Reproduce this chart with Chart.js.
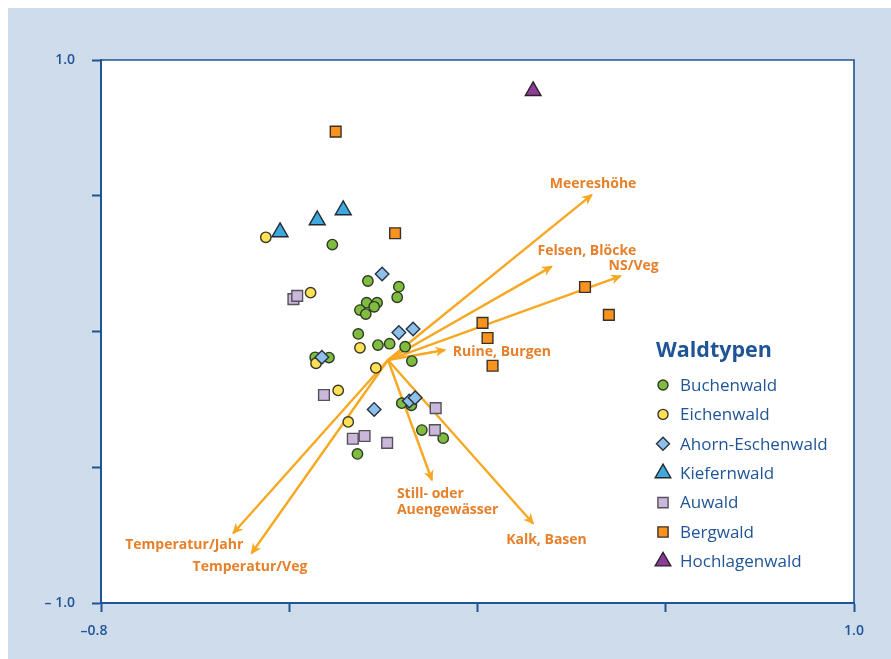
<!DOCTYPE html>
<html>
<head>
<meta charset="utf-8">
<script src="https://cdn.jsdelivr.net/npm/chart.js@4.4.1/dist/chart.umd.min.js"></script>
<style>
  html, body { margin: 0; padding: 0; background: #ffffff; }
  #panel { position: absolute; left: 8px; top: 8px; width: 883px; height: 651px; background: #cfdcec; }
  #wrap { position: absolute; left: 0; top: 0; width: 891px; height: 659px; }
</style>
</head>
<body>
<div id="panel"></div>
<div id="wrap"><canvas id="c" width="891" height="659"></canvas></div>
<script>
// Site scores per forest type: [axis 1, axis 2]
const buchenwald = [
  [-0.247, 0.320], [-0.162, 0.186], [-0.088, 0.165], [-0.092, 0.126], [-0.165, 0.106],
  [-0.140, 0.106], [-0.181, 0.079], [-0.147, 0.091], [-0.167, 0.064], [-0.185, -0.009],
  [-0.138, -0.050], [-0.110, -0.045], [-0.073, -0.056], [-0.057, -0.109], [-0.288, -0.095],
  [-0.255, -0.096], [-0.081, -0.264], [-0.058, -0.272], [-0.033, -0.363], [0.018, -0.393],
  [-0.187, -0.451]
];
const eichenwald = [
  [-0.406, 0.347], [-0.299, 0.143], [-0.181, -0.060], [-0.286, -0.117], [-0.143, -0.134],
  [-0.233, -0.217], [-0.209, -0.333]
];
const ahornEschenwald = [
  [-0.128, 0.212], [-0.088, -0.004], [-0.054, 0.009], [-0.272, -0.095], [-0.063, -0.256],
  [-0.049, -0.244], [-0.147, -0.287]
];
const kiefernwald = [[-0.372, 0.366], [-0.283, 0.410], [-0.221, 0.447]];
const auwald = [
  [-0.340, 0.119], [-0.331, 0.131], [-0.267, -0.234], [0.000, -0.282], [-0.002, -0.363],
  [-0.198, -0.395], [-0.170, -0.385], [-0.116, -0.410]
];
const bergwald = [
  [-0.239, 0.736], [-0.097, 0.362], [0.357, 0.164], [0.414, 0.061], [0.112, 0.032],
  [0.124, -0.024], [0.136, -0.126]
];
const hochlagenwald = [[0.233, 0.886]];

// Environmental vectors (fitted onto the ordination)
const arrowOrigin = [-0.114, -0.105];
const arrowNames = [
  ['Meereshöhe'], ['Felsen, Blöcke'], ['NS/Veg'], ['Ruine, Burgen'],
  ['Still- oder', 'Auengewässer'], ['Kalk, Basen'], ['Temperatur/Jahr'], ['Temperatur/Veg']
];
const arrowX = [0.373, 0.277, 0.442, 0.022, -0.009, 0.233, -0.484, -0.440];
const arrowY = [0.503, 0.239, 0.204, -0.068, -0.547, -0.707, -0.743, -0.817];

// Axis ticks
const xTickValues = [-0.8, -0.35, 0.1, 0.55, 1.0];
const xTickLabels = ['–0.8\u2003', '', '', '', '1.0'];
const yTickValues = [-1.0, -0.5, 0, 0.5, 1.0];
const yTickLabels = ['– 1.0', '', '', '', '1.0'];

const groupNames = ['Buchenwald', 'Eichenwald', 'Ahorn-Eschenwald', 'Kiefernwald', 'Auwald', 'Bergwald', 'Hochlagenwald'];
const groupData = [buchenwald, eichenwald, ahornEschenwald, kiefernwald, auwald, bergwald, hochlagenwald];

// Marker styling per group
const groupStyles = [
  { pointStyle: 'circle',   radius: 5.2, bg: '#80bc3f', border: '#2c3a22', legendRadius: 5 },
  { pointStyle: 'circle',   radius: 5.2, bg: '#fee155', border: '#3a3524', legendRadius: 5 },
  { pointStyle: 'rectRot',  radius: 6.8, bg: '#8dbfe8', border: '#263241', legendRadius: 6.5 },
  { pointStyle: 'triangle', radius: 9.2, bg: '#3fa9de', border: '#1f2a33', legendRadius: 9 },
  { pointStyle: 'rect',     radius: 7.6, bg: '#c9b8d9', border: '#555059', legendRadius: 7.2 },
  { pointStyle: 'rect',     radius: 7.6, bg: '#f7931e', border: '#3b3128', legendRadius: 7.2 },
  { pointStyle: 'triangle', radius: 9.0, bg: '#8c3d96', border: '#2b1f2c', legendRadius: 9 }
];

// Pixel offsets of each vector label from its arrow tip (left edge, text middle)
const arrowLabelOffset = [
  [-42, -11], [-14, -16], [-12, -10], [8, 2], [-35, 14], [-27, 17], [-108, 12], [-59, 14]
];

const AXIS_BLUE = '#1f5497';
const ARROW_COLOR = '#f7a823';
const LABEL_ORANGE = '#e6802b';
const FONT = '"Open Sans", "Noto Sans", sans-serif';

const datasets = [];
groupNames.forEach((name, i) => {
  const st = groupStyles[i];
  datasets.push({
    label: name,
    data: groupData[i].map(p => ({ x: p[0], y: p[1] })),
    pointStyle: st.pointStyle,
    pointRadius: st.radius,
    pointHoverRadius: st.radius,
    backgroundColor: st.bg,
    borderColor: st.border,
    pointBorderWidth: 1.4,
    showLine: false,
    order: 10 - i
  });
});
arrowNames.forEach((name, i) => {
  datasets.push({
    label: name.join(' '),
    isArrow: true,
    arrowIndex: i,
    data: [{ x: arrowOrigin[0], y: arrowOrigin[1] }, { x: arrowX[i], y: arrowY[i] }],
    showLine: true,
    borderColor: ARROW_COLOR,
    borderWidth: 2.4,
    pointRadius: 0,
    pointHoverRadius: 0,
    order: 50
  });
});

function arrowGeom(chart, i) {
  const xs = chart.scales.x, ys = chart.scales.y;
  const ox = xs.getPixelForValue(arrowOrigin[0]), oy = ys.getPixelForValue(arrowOrigin[1]);
  const tx = xs.getPixelForValue(arrowX[i]), ty = ys.getPixelForValue(arrowY[i]);
  const len = Math.hypot(tx - ox, ty - oy);
  return { ox, oy, tx, ty, dx: (tx - ox) / len, dy: (ty - oy) / len };
}

const ordinationDecor = {
  id: 'ordinationDecor',
  beforeDraw(chart) {
    const { ctx, chartArea: a } = chart;
    ctx.save();
    ctx.fillStyle = '#ffffff';
    ctx.fillRect(a.left, a.top, a.right - a.left, a.bottom - a.top);
    ctx.restore();
  },
  afterDatasetDraw(chart, args) {
    const ds = chart.data.datasets[args.index];
    if (!ds.isArrow) return;
    const g = arrowGeom(chart, ds.arrowIndex);
    const ctx = chart.ctx;
    const L = 11, W = 5;
    const px = -g.dy, py = g.dx;
    const tipX = g.tx + g.dx * 1.5, tipY = g.ty + g.dy * 1.5;
    ctx.save();
    ctx.fillStyle = ARROW_COLOR;
    ctx.beginPath();
    ctx.moveTo(tipX, tipY);
    ctx.lineTo(tipX - g.dx * L + px * W, tipY - g.dy * L + py * W);
    ctx.lineTo(tipX - g.dx * L * 0.72, tipY - g.dy * L * 0.72);
    ctx.lineTo(tipX - g.dx * L - px * W, tipY - g.dy * L - py * W);
    ctx.closePath();
    ctx.fill();
    ctx.restore();
  },
  afterDatasetsDraw(chart) {
    const ctx = chart.ctx;
    ctx.save();
    ctx.fillStyle = LABEL_ORANGE;
    ctx.font = 'bold 14px ' + FONT;
    ctx.textAlign = 'left';
    ctx.textBaseline = 'middle';
    arrowNames.forEach((lines, i) => {
      const g = arrowGeom(chart, i);
      const off = arrowLabelOffset[i];
      lines.forEach((t, k) => ctx.fillText(t, g.tx + off[0], g.ty + off[1] + k * 16));
    });
    ctx.restore();
  },
  afterDraw(chart) {
    const { ctx, chartArea: a } = chart;
    ctx.save();
    // top and right frame lines
    ctx.strokeStyle = AXIS_BLUE;
    ctx.lineWidth = 1.6;
    ctx.beginPath();
    ctx.moveTo(a.left, a.top);
    ctx.lineTo(a.right, a.top);
    ctx.lineTo(a.right, a.bottom);
    ctx.stroke();

    // legend
    const lx = 656, markX = 663, textX = 680;
    ctx.fillStyle = AXIS_BLUE;
    ctx.textBaseline = 'middle';
    ctx.textAlign = 'left';
    ctx.font = 'bold 21.5px ' + FONT;
    ctx.fillText('Waldtypen', lx, 351);
    ctx.font = '17px ' + FONT;
    groupNames.forEach((name, i) => {
      const y = 385 + i * 29.4;
      const st = groupStyles[i];
      ctx.save();
      ctx.fillStyle = st.bg;
      ctx.strokeStyle = st.border;
      ctx.lineWidth = 1.4;
      Chart.helpers.drawPoint(ctx, { pointStyle: st.pointStyle, radius: st.legendRadius, rotation: 0, borderWidth: 1.4 }, markX, y);
      ctx.restore();
      ctx.fillStyle = AXIS_BLUE;
      ctx.fillText(name, textX, y + 1);
    });
    ctx.restore();
  }
};

new Chart(document.getElementById('c'), {
  type: 'scatter',
  data: { datasets },
  options: {
    responsive: false,
    animation: false,
    devicePixelRatio: 1,
    layout: { padding: { top: 60, right: 37, left: 0, bottom: 0 } },
    plugins: { legend: { display: false }, tooltip: { enabled: false } },
    events: [],
    scales: {
      x: {
        type: 'linear', min: -0.8, max: 1.0,
        afterBuildTicks: s => { s.ticks = xTickValues.map(v => ({ value: v })); },
        afterFit: s => { s.height = 56; },
        grid: { drawOnChartArea: false, drawTicks: true, tickLength: 9, tickColor: AXIS_BLUE, tickWidth: 2 },
        border: { display: true, color: AXIS_BLUE, width: 2 },
        ticks: {
          padding: 11, color: AXIS_BLUE, maxRotation: 0, autoSkip: false,
          font: { family: FONT, size: 14, weight: '600' },
          callback: (v, idx) => xTickLabels[idx]
        }
      },
      y: {
        type: 'linear', min: -1.0, max: 1.0,
        afterBuildTicks: s => { s.ticks = yTickValues.map(v => ({ value: v })); },
        afterFit: s => { s.width = 101; },
        grid: { drawOnChartArea: false, drawTicks: true, tickLength: 9, tickColor: AXIS_BLUE, tickWidth: 2 },
        border: { display: true, color: AXIS_BLUE, width: 2 },
        ticks: {
          padding: 17, color: AXIS_BLUE, autoSkip: false,
          font: { family: FONT, size: 14, weight: '600' },
          callback: (v, idx) => yTickLabels[idx]
        }
      }
    }
  },
  plugins: [ordinationDecor]
});
</script>
</body>
</html>
